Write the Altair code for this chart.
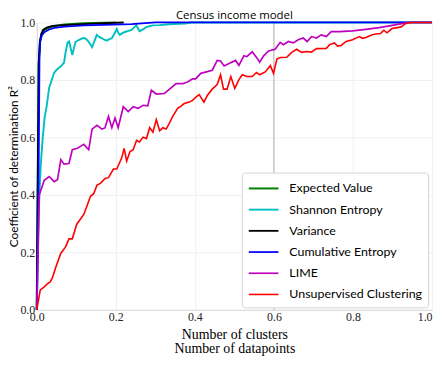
import altair as alt
import pandas as pd

series_names = ["Expected Value", "Shannon Entropy", "Variance",
                "Cumulative Entropy", "LIME", "Unsupervised Clustering"]
series_colors = ["#008000", "#00bfbf", "#000000", "#0000ff", "#bf00bf", "#ff0000"]
series_widths = [2.0, 1.6, 2.0, 1.5, 1.3, 1.6]

ev_x = [0, 0.005, 0.008, 0.012, 0.02, 0.04, 0.07, 0.12, 0.2]
ev_y = [0, 0.85, 0.93, 0.96, 0.975, 0.987, 0.993, 0.997, 1.0]

sh_x = [0, 0.003, 0.0065, 0.01, 0.015, 0.02, 0.025, 0.0315, 0.038, 0.044, 0.05, 0.057,
        0.063, 0.069, 0.073, 0.078, 0.082, 0.086, 0.09, 0.094, 0.098, 0.105, 0.111,
        0.117, 0.123, 0.13, 0.135, 0.14, 0.146, 0.152, 0.158, 0.165, 0.171, 0.177,
        0.184, 0.19, 0.196, 0.2025, 0.206, 0.21, 0.217, 0.223, 0.23, 0.24, 0.246,
        0.252, 0.256, 0.26, 0.27, 0.277, 0.285, 0.293, 0.31, 0.327, 0.344, 0.377,
        0.39, 1.0]
sh_y = [0, 0.2, 0.395, 0.5, 0.596, 0.67, 0.707, 0.773, 0.80, 0.825, 0.835, 0.843,
        0.85, 0.86, 0.896, 0.93, 0.934, 0.91, 0.887, 0.91, 0.932, 0.938, 0.942,
        0.946, 0.945, 0.935, 0.925, 0.914, 0.935, 0.957, 0.95, 0.945, 0.94, 0.937,
        0.942, 0.945, 0.96, 0.977, 0.965, 0.957, 0.963, 0.967, 0.97, 0.974, 0.982,
        0.99, 0.98, 0.97, 0.977, 0.984, 0.987, 0.99, 0.991, 0.993, 0.995, 0.996,
        1.0, 1.0]

va_x = [0, 0.005, 0.008, 0.012, 0.016, 0.025, 0.04, 0.08, 0.16, 0.22]
va_y = [0, 0.86, 0.935, 0.962, 0.974, 0.982, 0.988, 0.992, 0.997, 1.0]

ce_x = [0, 0.005, 0.007, 0.009, 0.013, 0.019, 0.03, 0.044, 0.07, 0.12, 0.24, 0.3, 1.0]
ce_y = [0, 0.5, 0.88, 0.935, 0.955, 0.966, 0.975, 0.981, 0.986, 0.99, 0.994, 1.0, 1.0]

li_x = [0, 0.002, 0.004, 0.0065, 0.019, 0.0315, 0.044, 0.0525, 0.061, 0.069, 0.0815,
        0.09, 0.1025, 0.119, 0.1315, 0.14, 0.1525, 0.165, 0.1725, 0.1815, 0.19,
        0.198, 0.206, 0.219, 0.2315, 0.244, 0.2565, 0.269, 0.281, 0.29, 0.3025,
        0.323, 0.336, 0.3525, 0.369, 0.3815, 0.394, 0.402, 0.415, 0.4315, 0.444,
        0.4565, 0.465, 0.474, 0.4865, 0.503, 0.5115, 0.524, 0.5315, 0.545, 0.5575,
        0.564, 0.574, 0.5865, 0.603, 0.616, 0.624, 0.6365, 0.649, 0.6615, 0.674,
        0.684, 0.695, 0.7075, 0.72, 0.7325, 0.745, 0.766, 0.799, 0.8325, 0.866,
        0.899, 0.924, 0.94, 1.0]
li_y = [0, 0.1, 0.25, 0.40, 0.451, 0.464, 0.446, 0.453, 0.523, 0.507, 0.509,
        0.557, 0.562, 0.576, 0.557, 0.629, 0.642, 0.629, 0.633, 0.673, 0.634,
        0.668, 0.634, 0.707, 0.69, 0.707, 0.701, 0.712, 0.71, 0.764, 0.751,
        0.753, 0.768, 0.787, 0.787, 0.793, 0.804, 0.804, 0.823, 0.829, 0.834,
        0.868, 0.866, 0.849, 0.857, 0.868, 0.851, 0.884, 0.881, 0.898, 0.876,
        0.862, 0.884, 0.901, 0.907, 0.931, 0.923, 0.934, 0.929, 0.94, 0.946,
        0.934, 0.951, 0.946, 0.957, 0.951, 0.968, 0.968, 0.971, 0.976, 0.982,
        0.99, 0.996, 1.0, 1.0]

uc_x = [0, 0.004, 0.009, 0.019, 0.0275, 0.034, 0.04, 0.048, 0.061, 0.073, 0.0815,
        0.09, 0.101, 0.119, 0.1275, 0.136, 0.144, 0.1525, 0.161, 0.173, 0.1815,
        0.194, 0.2025, 0.215, 0.221, 0.2275, 0.236, 0.244, 0.2525, 0.26, 0.269,
        0.2775, 0.2857, 0.294, 0.3025, 0.311, 0.319, 0.3275, 0.336, 0.344, 0.3565,
        0.365, 0.373, 0.386, 0.394, 0.4025, 0.411, 0.423, 0.4315, 0.444, 0.4565,
        0.465, 0.4725, 0.4815, 0.491, 0.501, 0.5115, 0.52, 0.5315, 0.545, 0.556,
        0.564, 0.578, 0.591, 0.599, 0.6075, 0.616, 0.6325, 0.645, 0.6575, 0.67,
        0.6825, 0.695, 0.7075, 0.7325, 0.741, 0.753, 0.761, 0.77, 0.7825, 0.799,
        0.816, 0.824, 0.8325, 0.849, 0.857, 0.87, 0.878, 0.886, 0.899, 0.916,
        0.924, 0.932, 0.945, 1.0]
uc_y = [0, 0.03, 0.069, 0.08, 0.091, 0.097, 0.113, 0.147, 0.197, 0.219, 0.247,
        0.247, 0.297, 0.332, 0.363, 0.395, 0.404, 0.434, 0.44, 0.457, 0.46,
        0.49, 0.49, 0.529, 0.562, 0.518, 0.551, 0.557, 0.59, 0.584, 0.601,
        0.596, 0.634, 0.618, 0.662, 0.623, 0.634, 0.629, 0.651, 0.673, 0.701,
        0.709, 0.718, 0.723, 0.729, 0.74, 0.749, 0.723, 0.746, 0.768, 0.784,
        0.818, 0.768, 0.768, 0.812, 0.771, 0.801, 0.818, 0.812, 0.812, 0.826,
        0.818, 0.828, 0.85, 0.823, 0.873, 0.878, 0.879, 0.896, 0.907, 0.896,
        0.899, 0.897, 0.909, 0.91, 0.923, 0.929, 0.918, 0.92, 0.934, 0.94,
        0.951, 0.945, 0.948, 0.957, 0.96, 0.962, 0.973, 0.964, 0.979, 0.983,
        0.986, 0.996, 1.0, 1.0]

vline_x = [0.6]
x_ticks = [0.0, 0.2, 0.4, 0.6, 0.8, 1.0]
y_ticks = [0.0, 0.2, 0.4, 0.6, 0.8, 1.0]

all_xy = [(ev_x, ev_y), (sh_x, sh_y), (va_x, va_y), (ce_x, ce_y), (li_x, li_y), (uc_x, uc_y)]
frames = []
for i, (name, (xs, ys)) in enumerate(zip(series_names, all_xy)):
    frames.append(pd.DataFrame({"series": name, "x": xs, "y": ys, "idx": range(len(xs))}))
df = pd.concat(frames, ignore_index=True)

x_enc = alt.X("x:Q", scale=alt.Scale(domain=[0, 1], nice=False),
              axis=alt.Axis(values=x_ticks, format=".1f",
                            labelAlign=alt.ExprRef(expr="datum.value >= 1 ? 'right' : 'center'"),
                            title=["Number of clusters", "Number of datapoints"]))
y_enc = alt.Y("y:Q", scale=alt.Scale(domain=[0, 1], nice=False),
              axis=alt.Axis(values=y_ticks, format=".1f", minExtent=16, maxExtent=16,
                            title="Coefficient of determination R²"))
color_enc = alt.Color("series:N",
                      scale=alt.Scale(domain=series_names, range=series_colors),
                      legend=alt.Legend(title=None, orient="none", legendX=207, legendY=151.5,
                                        symbolType="M-1,0H2.33", symbolSize=324,
                                        labelFont="Lato", labelFontSize=12.5,
                                        labelColor="#000000",
                                        padding=6, rowPadding=4.4, labelOffset=22,
                                        fillColor="white", strokeColor="#d5d5d5",
                                        cornerRadius=3, symbolStrokeWidth=2))
width_enc = alt.StrokeWidth("series:N",
                            scale=alt.Scale(domain=series_names, range=series_widths),
                            legend=None)

vrule = alt.Chart(pd.DataFrame({"x": vline_x})).mark_rule(color="#b0b0b0", strokeWidth=1).encode(
    x=alt.X("x:Q", scale=alt.Scale(domain=[0, 1], nice=False))
)

layers = [vrule]
for name in series_names:
    layers.append(
        alt.Chart(df).transform_filter(alt.datum.series == name).mark_line(clip=False).encode(
            x=x_enc, y=y_enc, color=color_enc, strokeWidth=width_enc, order="idx:Q"
        )
    )

chart = alt.layer(*layers).properties(
    width=399, height=290,
    title=alt.TitleParams("Census income model", font="Open Sans", fontSize=11.5,
                          fontWeight="normal", color="#000000", offset=-4.5, frame="group"),
    padding={"left": 0, "top": 0, "right": 0, "bottom": 0},
).configure_view(stroke=None).configure_axis(
    grid=True, gridColor="#ececec", gridWidth=0.8,
    domainColor="#d8d8d8", ticks=False,
    labelFont="Liberation Serif", labelFontSize=12, labelColor="#222222", labelPadding=2,
).configure_axisX(
    titleFont="Liberation Serif", titleFontSize=14, titleFontWeight="normal",
    titleColor="#000000", titlePadding=5, titleLineHeight=14,
).configure_axisY(
    titleFont="Lato", titleFontSize=12, titleFontWeight="normal",
    titleColor="#000000", titlePadding=0,
)

chart.save("out.html", embed_options={"renderer": "svg", "actions": False})
